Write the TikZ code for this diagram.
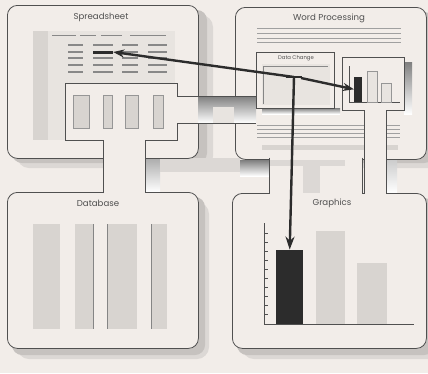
\documentclass[tikz,border=0pt]{standalone}
\usepackage{fontspec}
\setmainfont{Poppins}
\usetikzlibrary{arrows.meta}
\definecolor{bg}{HTML}{F2EDE9}
\definecolor{shadelt}{HTML}{DCD8D5}
\definecolor{shade}{HTML}{C6C2BF}
\definecolor{ink}{HTML}{505050}
\definecolor{panel}{HTML}{E8E4E0}
\definecolor{panelgray}{HTML}{D8D4D0}
\definecolor{dashcol}{HTML}{888888}
\definecolor{dark}{HTML}{2C2C2C}
\begin{document}
\begin{tikzpicture}[x=1pt,y=-1pt,
  win/.style={draw=ink, line width=0.8pt, fill=bg, rounded corners=10pt, anchor=north west, inner sep=0pt},
  shadowA/.style={fill=shadelt, rounded corners=12pt},
  shadowB/.style={fill=shade, rounded corners=10pt},
  title/.style={font=\fontsize{8.6}{9}\selectfont, text=ink, inner sep=0pt},
  small/.style={font=\fontsize{5.3}{6}\selectfont, text=ink, inner sep=0pt},
  edge/.style={draw=ink, line width=0.8pt},
  cell/.style={draw=dashcol, line width=1.5pt},
  txtline/.style={draw=dashcol!80, line width=0.5pt},
  col/.style={fill=panelgray, draw=ink!60, line width=0.4pt, anchor=north west, inner sep=0pt},
  flow/.style={draw=dark, line width=2.4pt},
  tip/.style={-{Stealth[length=11pt,width=8pt]}}
]
\useasboundingbox (0,0) rectangle (428,373);
\fill[bg] (0,0) rectangle (428,373);

% shadows of the windows
\fill[shadowA] (17,15) rectangle (213,168);
\fill[shadowB] (12,10) rectangle (207,163);
\fill[shadowA] (245,17) rectangle (440,168);
\fill[shadowB] (240,12) rectangle (434,163);
\fill[shadowA] (17,202) rectangle (209,359);
\fill[shadowB] (12,197) rectangle (205,355);
\fill[shadowA] (242,203) rectangle (440,359);
\fill[shadowB] (237,198) rectangle (434,355);
% shadows in the central gap
\fill[shade] (145,140) rectangle (160,192);
\fill[shadelt] (160,158) rectangle (240,172);
\fill[shade] (240,160) rectangle (269,176);
\fill[shade] (386,110) rectangle (397,193);

% windows
\node[win, minimum width=191pt, minimum height=153pt] (ss) at (7,5) {};
\node[win, minimum width=191pt, minimum height=152pt] (wp) at (235,7) {};
\node[win, minimum width=191pt, minimum height=156pt] (db) at (7,192) {};
\node[win, minimum width=194pt, minimum height=155pt] (gr) at (232,193) {};

\node[title] (sst) at (101,17) {Spreadsheet};
\node[title] (wpt) at (329,18) {Word Processing};
\node[title] (dbt) at (98,203) {Database};
\node[title] (grt) at (332,203) {Graphics};

% spreadsheet panel
\fill[panel] (33,31) rectangle (175,140);
\fill[panelgray] (33,31) rectangle (48,140);
\draw[dashcol, line width=1pt] (52,35) -- (76,35) (80,35) -- (96,35) (101,35) -- (122,35) (130,35) -- (166,35);
\foreach \yy in {45,52,58,65,72}{
  \draw[cell] (68,\yy) -- (83,\yy) (93,\yy) -- (113,\yy) (122,\yy) -- (138,\yy) (148,\yy) -- (167,\yy);
}
\node[fill=dark, minimum width=20pt, minimum height=3pt, inner sep=0pt] (sscell) at (103,52) {};

% word processing text lines
\foreach \yy in {28,33,38,42}{ \draw[txtline] (257,\yy) -- (401,\yy); }
\foreach \yy in {125,129,133,137}{ \draw[txtline] (257,\yy) -- (400,\yy); }
\fill[panelgray] (262,145) rectangle (398,150);

% spreadsheet data box with stem to database
\fill[bg] (65,83) rectangle (177,140);
\fill[bg] (103.4,139) rectangle (144.6,194);
\draw[edge] (103,193) -- (103,140) -- (65,140) -- (65,83) -- (177,83) -- (177,96);
\draw[edge] (177,123) -- (177,140) -- (145,140) -- (145,193);
\node[col, minimum width=16pt, minimum height=33pt] (c1) at (73,95) {};
\node[col, minimum width=9pt, minimum height=33pt] (c2) at (103,95) {};
\node[col, minimum width=13pt, minimum height=33pt] (c3) at (125,95) {};
\node[col, minimum width=10pt, minimum height=33pt] (c4) at (153,95) {};

% horizontal pipe to the data change box
\fill[shade] (177,96) rectangle (256,123);
\fill[bg] (177.4,97) rectangle (198,122.6);
\fill[panel] (213,107) rectangle (234,122.6);
\draw[edge] (177,96) -- (256,96);
\draw[edge] (177,123) -- (256,123);

% pipe between word processing and graphics
\fill[bg] (269.4,156) rectangle (361.6,195);
\fill[shadelt] (269.4,160) rectangle (345,166);
\fill[shadelt] (303,166) rectangle (320,193);
\draw[edge] (269,157.5) -- (269,193.5);
\draw[edge] (362,157.5) -- (362,193.5);

% data change box
\fill[shade] (262,108) rectangle (340,114);
\node[win, rounded corners=0pt, minimum width=78pt, minimum height=56pt] (dc) at (256,52) {};
\node[small] (dct) at (296,58) {Data Change};
\fill[panel] (262,64) rectangle (330,105);
\draw[dashcol, line width=0.5pt] (264,66) -- (328,66);
\draw[ink!70, line width=0.4pt] (263,66) -- (263,104);

% chart box with stem to graphics
\fill[shade] (404,62) rectangle (412,114);
\fill[bg] (342,57) rectangle (404,110);
\fill[bg] (364.4,109) rectangle (385.6,195);
\draw[edge] (364,193.5) -- (364,110) -- (342,110) -- (342,57) -- (404,57) -- (404,110) -- (386,110) -- (386,193.5);
\draw[ink, line width=0.5pt] (349,66) -- (349,102) -- (400,102);
\node[fill=dark, minimum width=8pt, minimum height=25pt, inner sep=0pt, anchor=south west] (wpbar) at (354,102) {};
\node[fill=panel, draw=ink!60, line width=0.4pt, minimum width=10pt, minimum height=31pt, inner sep=0pt, anchor=south west] (wpbar2) at (367,102) {};
\node[fill=panel, draw=ink!60, line width=0.4pt, minimum width=10pt, minimum height=19pt, inner sep=0pt, anchor=south west] (wpbar3) at (381,102) {};

% database columns
\node[col, draw=none, minimum width=27pt, minimum height=105pt] (d1) at (33,224) {};
\node[col, draw=none, minimum width=18pt, minimum height=105pt] (d2) at (75,224) {};
\node[col, draw=none, minimum width=30pt, minimum height=105pt] (d3) at (107,224) {};
\node[col, draw=none, minimum width=16pt, minimum height=105pt] (d4) at (151,224) {};
\draw[ink!70, line width=0.4pt] (d2.north east) -- (d2.south east);
\draw[ink!70, line width=0.4pt] (d3.north west) -- (d3.south west);
\draw[ink!70, line width=0.4pt] (d4.north west) -- (d4.south west);

% graphics chart
\draw[ink, line width=0.5pt] (264,223) -- (264,324) -- (414,324);
\foreach \yy in {233,242,251,260,269,278,287,296,305,314}{ \draw[ink, line width=0.4pt] (264,\yy) -- (268,\yy); }
\node[fill=dark, minimum width=27pt, minimum height=74pt, inner sep=0pt, anchor=south west] (grbar) at (276,324) {};
\node[fill=panelgray, minimum width=29pt, minimum height=93pt, inner sep=0pt, anchor=south west] (grbar2) at (316,324) {};
\node[fill=panelgray, minimum width=30pt, minimum height=61pt, inner sep=0pt, anchor=south west] (grbar3) at (357,324) {};

% data flow
\coordinate (hub) at (294,77);
\coordinate (hubR) at (301,78);
\draw[flow] (286,77) -- (302,77);
\draw[flow, tip] (hub) -- (sscell.east);
\draw[flow, tip] (hubR) -- (wpbar.west);
\draw[flow, -{Stealth[length=13pt,width=9pt,fill=ink!80]}] (hub) -- (grbar.north);
\end{tikzpicture}
\end{document}
